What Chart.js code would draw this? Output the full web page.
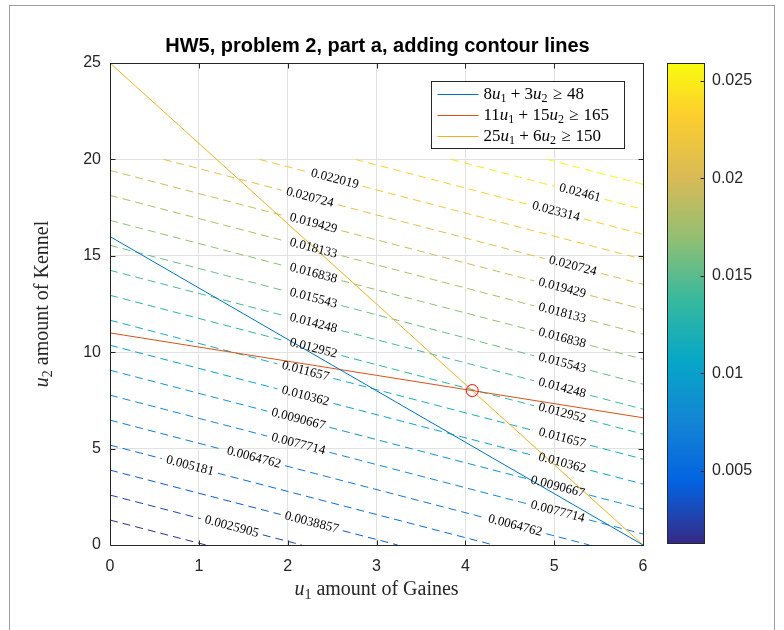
<!DOCTYPE html>
<html>
<head>
<meta charset="utf-8">
<script src="https://cdn.jsdelivr.net/npm/chart.js@4.4.1/dist/chart.umd.min.js"></script>
<style>
  html, body { margin:0; padding:0; background:#fff; }
  #wrap { position:relative; width:784px; height:630px; overflow:hidden; background:#fff; }
  #frame { position:absolute; left:9px; top:5px; width:766px; height:700px; border:1px solid #a0a0a0; box-sizing:border-box; }
  #main { position:absolute; left:0; top:0; }
  #cbar { position:absolute; left:640px; top:0; }
</style>
</head>
<body>
<div id="wrap">
  <div id="frame"></div>
  <canvas id="main" width="784" height="630"></canvas>
  <canvas id="cbar" width="144" height="630"></canvas>
</div>
<script>
// ------------------------------------------------------
// data
// ------------------------------------------------------
const xTickVals = [0, 1, 2, 3, 4, 5, 6];
const yTickVals = [0, 5, 10, 15, 20, 25];
const cbTickVals = [0.005, 0.01, 0.015, 0.02, 0.025];

// constraints: consA*u1 + consB*u2 >= consRhs
const consA   = [8, 11, 25];
const consB   = [3, 15, 6];
const consRhs = [48, 165, 150];
const consColors = ['#0072BD', '#D95319', '#EDB120'];

// contour function f = costU1*u1 + costU2*u2 on grid u1 0..6, u2 0..20
const costU1 = 0.0012;
const costU2 = 0.001;
const gridU1 = [0, 6];
const gridU2 = [0, 20];

// contour levels (as labelled)
const levelText = ['0.0012952','0.0025905','0.0038857','0.005181','0.0064762',
  '0.0077714','0.0090667','0.010362','0.011657','0.012952','0.014248','0.015543',
  '0.016838','0.018133','0.019429','0.020724','0.022019','0.023314','0.02461','0.025905'];
const levels = levelText.map(Number);

// inline labels: level index + u1 of label centre
const labelLevelIdx = [16,15,14,13,12,11,10,9,8,7,6,5,4,3,2,1,
                       18,17,15,14,13,12,11,10,9,8,7,6,5,4];
const labelU1 = [2.53,2.25,2.29,2.29,2.29,2.29,2.29,2.29,2.20,2.20,2.12,2.12,1.62,0.90,2.27,1.37,
                 5.29,5.02,5.21,5.09,5.09,5.09,5.09,5.09,5.09,5.09,5.09,5.04,5.04,4.56];

// parula colormap anchors
const parulaT = [0, 0.127, 0.254, 0.381, 0.508, 0.635, 0.762, 0.889, 1];
const parulaRGB = [[53,42,135],[3,99,225],[20,133,212],[6,167,198],[56,185,158],
                   [146,191,115],[217,186,86],[252,206,46],[249,251,14]];

const cMin = levels[0];
const cMax = levels[levels.length - 1];

function parula(t){
  t = Math.max(0, Math.min(1, t));
  let i = 0;
  while(i < parulaT.length - 2 && t > parulaT[i+1]) i++;
  const f = (t - parulaT[i]) / (parulaT[i+1] - parulaT[i]);
  const c = parulaRGB[i].map((v, n) => Math.round(v + (parulaRGB[i+1][n] - v) * f));
  return `rgb(${c[0]},${c[1]},${c[2]})`;
}

// ------------------------------------------------------
// datasets
// ------------------------------------------------------
const datasets = [];

consA.forEach((a, i) => {
  const b = consB[i], c = consRhs[i];
  datasets.push({
    label: 'c' + i,
    data: [{x: gridU1[0], y: (c - a*gridU1[0]) / b}, {x: gridU1[1], y: (c - a*gridU1[1]) / b}],
    showLine: true, borderColor: consColors[i], borderWidth: 1,
    pointRadius: 0, fill: false
  });
});

// optimum = intersection of constraint 2 and 3
(function(){
  const a1 = consA[1], b1 = consB[1], c1 = consRhs[1];
  const a2 = consA[2], b2 = consB[2], c2 = consRhs[2];
  const det = a1*b2 - a2*b1;
  const u1 = (c1*b2 - c2*b1) / det;
  const u2 = (a1*c2 - a2*c1) / det;
  datasets.unshift({
    label: 'opt', data: [{x: u1, y: u2}], showLine: false,
    pointRadius: 6, pointBorderColor: '#ff0000', pointBackgroundColor: 'rgba(0,0,0,0)',
    pointBorderWidth: 1
  });
})();

function contourPoints(idx){
  const v = levels[idx];
  const yAt = u => (v - costU1*u) / costU2;
  const x0 = Math.max(gridU1[0], (v - costU2*gridU2[1]) / costU1);
  const x1 = Math.min(gridU1[1], (v - costU2*gridU2[0]) / costU1);
  const gaps = [];
  labelLevelIdx.forEach((li, j) => { if(li === idx) gaps.push(labelU1[j]); });
  gaps.sort((p, q) => p - q);
  const pts = [{x: x0, y: yAt(x0)}];
  const h = 0.035 * levelText[idx].length + 0.035;
  gaps.forEach(c => {
    pts.push({x: c - h, y: yAt(c - h)});
    pts.push({x: c, y: null});
    pts.push({x: c + h, y: yAt(c + h)});
  });
  pts.push({x: x1, y: yAt(x1)});
  return pts;
}

levels.forEach((v, idx) => {
  datasets.push({
    label: 'lv' + idx,
    data: contourPoints(idx),
    showLine: true, spanGaps: false,
    borderColor: parula((v - cMin) / (cMax - cMin)),
    borderWidth: 1, borderDash: [8, 5],
    pointRadius: 0, fill: false
  });
});

// ------------------------------------------------------
// helpers
// ------------------------------------------------------
const AX_COLOR = '#262626';
const SERIF = '"Liberation Serif", "Times New Roman", serif';
const SANS = '"Liberation Sans", Arial, sans-serif';

function fontFor(k, size){
  if(k === 'i') return `italic ${size}px ${SERIF}`;
  if(k === 's') return `${Math.round(size*0.7)}px ${SERIF}`;
  return `${size}px ${SERIF}`;
}
function padFor(k, size){
  if(k === 'op') return size * 0.25;
  if(k === 'rel') return size * 0.3;
  return 0;
}
// parts: [text, kind] kind: r roman, i italic, s subscript, op binary, rel relation
function mathWidth(ctx, parts, size){
  let w = 0;
  parts.forEach(([t, k]) => {
    ctx.font = fontFor(k, size);
    w += ctx.measureText(t).width + 2 * padFor(k, size);
  });
  return w;
}
function drawMath(ctx, parts, x, y, size){
  let cx = x;
  parts.forEach(([t, k]) => {
    ctx.font = fontFor(k, size);
    const pad = padFor(k, size);
    cx += pad;
    ctx.fillText(t, cx, k === 's' ? y + size*0.22 : y);
    cx += ctx.measureText(t).width + pad;
  });
}
function consParts(i){
  return [[String(consA[i]), 'r'], ['u', 'i'], ['1', 's'], ['+', 'op'],
          [String(consB[i]), 'r'], ['u', 'i'], ['2', 's'], ['\u2265', 'rel'], [String(consRhs[i]), 'r']];
}
function crisp(v){ return Math.round(v) + 0.5; }

// ------------------------------------------------------
// main chart decorations (MATLAB look)
// ------------------------------------------------------
const mainDecor = {
  id: 'mainDecor',
  afterDatasetsDraw(chart){
    const {ctx, chartArea: ca, scales: {x, y}} = chart;

    // contour labels
    ctx.save();
    ctx.fillStyle = '#000';
    ctx.font = `13px ${SERIF}`;
    ctx.textAlign = 'center';
    ctx.textBaseline = 'middle';
    labelLevelIdx.forEach((li, j) => {
      const v = levels[li], u = labelU1[j];
      const px = x.getPixelForValue(u);
      const py = y.getPixelForValue((v - costU1*u) / costU2);
      const px2 = x.getPixelForValue(u + 1);
      const py2 = y.getPixelForValue((v - costU1*(u + 1)) / costU2);
      ctx.save();
      ctx.translate(px, py);
      ctx.rotate(Math.atan2(py2 - py, px2 - px));
      ctx.fillText(levelText[li], 0, 0);
      ctx.restore();
    });
    ctx.restore();

    // box + inward ticks
    ctx.save();
    ctx.strokeStyle = AX_COLOR;
    ctx.lineWidth = 1;
    const L = crisp(ca.left), R = crisp(ca.right), T = crisp(ca.top), B = crisp(ca.bottom);
    ctx.strokeRect(L, T, R - L, B - T);
    ctx.beginPath();
    xTickVals.forEach(v => {
      const px = crisp(x.getPixelForValue(v));
      ctx.moveTo(px, B); ctx.lineTo(px, B - 5);
      ctx.moveTo(px, T); ctx.lineTo(px, T + 5);
    });
    yTickVals.forEach(v => {
      const py = crisp(y.getPixelForValue(v));
      ctx.moveTo(L, py); ctx.lineTo(L + 5, py);
      ctx.moveTo(R, py); ctx.lineTo(R - 5, py);
    });
    ctx.stroke();

    // legend
    const lw = 193, lh = 67;
    const lx = crisp(ca.right - 19 - lw), ly = crisp(ca.top + 18);
    ctx.fillStyle = '#fff';
    ctx.fillRect(lx, ly, lw, lh);
    ctx.strokeRect(lx, ly, lw, lh);
    ctx.textAlign = 'left';
    ctx.textBaseline = 'alphabetic';
    consA.forEach((a, i) => {
      const ry = ly + 12 + i * 21;
      ctx.strokeStyle = consColors[i];
      ctx.beginPath();
      ctx.moveTo(lx + 6, crisp(ry)); ctx.lineTo(lx + 47, crisp(ry));
      ctx.stroke();
      ctx.fillStyle = '#000';
      drawMath(ctx, consParts(i), lx + 52, ry + 5, 17);
    });
    ctx.restore();
  },
  afterDraw(chart){
    const {ctx, chartArea: ca} = chart;
    ctx.save();
    // title
    ctx.fillStyle = '#000';
    ctx.font = `bold 20px ${SANS}`;
    ctx.textAlign = 'center';
    ctx.textBaseline = 'middle';
    ctx.fillText('HW5, problem 2, part a, adding contour lines', (ca.left + ca.right) / 2 + 1, 46);

    // axis labels
    ctx.textAlign = 'left';
    ctx.textBaseline = 'alphabetic';
    ctx.fillStyle = AX_COLOR;
    const xl = [['u', 'i'], ['1', 's'], [' amount of Gaines', 'r']];
    const wx = mathWidth(ctx, xl, 20);
    drawMath(ctx, xl, (ca.left + ca.right) / 2 - wx / 2, 595, 20);

    const yl = [['u', 'i'], ['2', 's'], [' amount of Kennel', 'r']];
    const wy = mathWidth(ctx, yl, 20);
    ctx.translate(48, (ca.top + ca.bottom) / 2);
    ctx.rotate(-Math.PI / 2);
    drawMath(ctx, yl, -wy / 2, 0, 20);
    ctx.restore();
  }
};

new Chart(document.getElementById('main'), {
  type: 'scatter',
  data: { datasets },
  options: {
    responsive: false, animation: false, devicePixelRatio: 1,
    layout: { padding: { left: 0, right: 141, top: 63, bottom: 0 } },
    plugins: { legend: { display: false }, tooltip: { enabled: false }, title: { display: false } },
    scales: {
      x: {
        type: 'linear', min: 0, max: 6,
        afterBuildTicks: s => { s.ticks = xTickVals.map(v => ({ value: v })); },
        afterFit: s => { s.height = 85; },
        grid: { color: '#e1e1e1', drawTicks: false },
        border: { display: false },
        ticks: { color: AX_COLOR, font: { family: SANS, size: 16 }, padding: 12, maxRotation: 0 }
      },
      y: {
        type: 'linear', min: 0, max: 25,
        afterBuildTicks: s => { s.ticks = yTickVals.map(v => ({ value: v })); },
        afterFit: s => { s.width = 110; },
        grid: { color: '#e1e1e1', drawTicks: false },
        border: { display: false },
        ticks: { color: AX_COLOR, font: { family: SANS, size: 16 }, padding: 9 }
      }
    }
  },
  plugins: [mainDecor]
});

// ------------------------------------------------------
// colorbar
// ------------------------------------------------------
const cbDecor = {
  id: 'cbDecor',
  afterDatasetsDraw(chart){
    const {ctx, chartArea: ca, scales: {y}} = chart;
    ctx.save();
    ctx.strokeStyle = AX_COLOR;
    ctx.lineWidth = 1;
    const L = crisp(ca.left), R = crisp(ca.right), T = crisp(ca.top), B = crisp(ca.bottom);
    ctx.strokeRect(L, T, R - L, B - T);
    ctx.beginPath();
    cbTickVals.forEach(v => {
      const py = crisp(y.getPixelForValue(v));
      ctx.moveTo(R, py); ctx.lineTo(R - 4, py);
    });
    ctx.stroke();
    ctx.restore();
  }
};

new Chart(document.getElementById('cbar'), {
  type: 'bar',
  data: {
    labels: [''],
    datasets: [{
      data: [[cMin, cMax]],
      barPercentage: 1, categoryPercentage: 1, borderWidth: 0,
      backgroundColor: (c) => {
        const {chart} = c;
        const {ctx, chartArea, scales} = chart;
        if(!chartArea) return '#888';
        const y0 = scales.y.getPixelForValue(cMin), y1 = scales.y.getPixelForValue(cMax);
        const g = ctx.createLinearGradient(0, y0, 0, y1);
        parulaT.forEach((t, i) => g.addColorStop(t, parula(t)));
        return g;
      }
    }]
  },
  options: {
    responsive: false, animation: false, devicePixelRatio: 1,
    layout: { padding: { left: 27, right: 0, top: 63, bottom: 87 } },
    plugins: { legend: { display: false }, tooltip: { enabled: false } },
    scales: {
      x: { display: false },
      y: {
        position: 'right', min: cMin, max: cMax,
        afterBuildTicks: s => { s.ticks = cbTickVals.map(v => ({ value: v })); },
        afterFit: s => { s.width = 80; },
        grid: { display: false, drawTicks: false },
        border: { display: false },
        ticks: { color: AX_COLOR, font: { family: SANS, size: 16 }, padding: 8, callback: v => String(v) }
      }
    }
  },
  plugins: [cbDecor]
});
</script>
</body>
</html>
